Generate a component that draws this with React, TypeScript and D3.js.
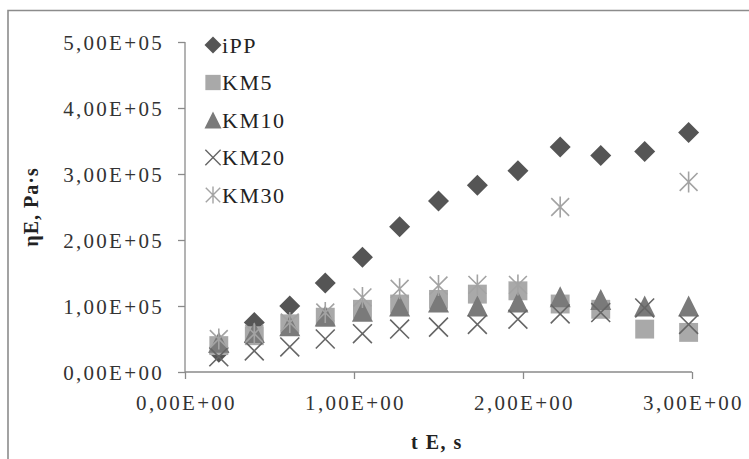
import React, { useEffect, useRef } from 'react';
import * as d3 from 'd3';

// time, s
const times = [0.2, 0.41, 0.62, 0.83, 1.05, 1.27, 1.5, 1.73, 1.97, 2.22, 2.46, 2.72, 2.98];

// elongational viscosity, Pa·s
const iPP = [30000, 75000, 100000, 135000, 174000, 220000, 259000, 283000, 305000, 341000, 328000, 334000, 363000];
const KM5 = [40000, 55000, 73000, 83000, 95000, 103000, 110000, 118000, 123000, 103000, 95000, 65000, 60000];
const KM10 = [45000, 60000, 70000, 85000, 92000, 100000, 106000, 100000, 106000, 114000, 110000, 100000, 100000];
const KM20 = [23000, 32000, 38000, 50000, 58000, 65000, 68000, 72000, 80000, 88000, 90000, 97000, 72000];
const KM30 = [50000, 58000, 75000, 90000, 113000, 126000, 131000, 132000, 132000, 250000, null, null, 288000];

const seriesNames = ['iPP', 'KM5', 'KM10', 'KM20', 'KM30'];
const seriesValues = [iPP, KM5, KM10, KM20, KM30];

const xTicks = [0, 1, 2, 3];
const yTicks = [0, 100000, 200000, 300000, 400000, 500000];

const fmt = (v: number) => {
  const s = v.toExponential(2).replace('.', ',');
  const [m, e] = s.split('e');
  const sign = e[0] === '-' ? '-' : '+';
  const digits = e.replace(/[+-]/, '').padStart(2, '0');
  return m + 'E' + sign + digits;
};

const markers: { [k: string]: { kind: string; fill: string; stroke: string } } = {
  iPP: { kind: 'diamond', fill: '#555555', stroke: 'none' },
  KM5: { kind: 'square', fill: '#a9a9a9', stroke: 'none' },
  KM10: { kind: 'triangle', fill: '#7a7a7a', stroke: 'none' },
  KM20: { kind: 'x', fill: 'none', stroke: '#666666' },
  KM30: { kind: 'star', fill: 'none', stroke: '#a3a3a3' },
};

function markerPath(kind: string, r: number) {
  const p = d3.path();
  if (kind === 'diamond') {
    p.moveTo(0, -r); p.lineTo(r, 0); p.lineTo(0, r); p.lineTo(-r, 0); p.closePath();
  } else if (kind === 'square') {
    const h = r * 0.9;
    p.rect(-h, -h, 2 * h, 2 * h);
  } else if (kind === 'triangle') {
    p.moveTo(0, -r); p.lineTo(r, r); p.lineTo(-r, r); p.closePath();
  } else if (kind === 'x') {
    const h = r * 0.9;
    p.moveTo(-h, -h); p.lineTo(h, h); p.moveTo(h, -h); p.lineTo(-h, h);
  } else {
    const h = r * 0.85;
    p.moveTo(-h, -h); p.lineTo(h, h); p.moveTo(h, -h); p.lineTo(-h, h);
    p.moveTo(0, -r); p.lineTo(0, r);
  }
  return p.toString();
}

export default function App() {
  const ref = useRef<SVGSVGElement>(null);

  useEffect(() => {
    const svg = d3.select(ref.current);
    svg.selectAll('*').remove();

    const width = 749, height = 459;
    const left = 185, right = 692, top = 42, bottom = 372;

    const x = d3.scaleLinear().domain([0, 3]).range([left, right]);
    const y = d3.scaleLinear().domain([0, 500000]).range([bottom, top]);

    svg.append('rect').attr('width', width).attr('height', height).attr('fill', '#fff');

    // outer frame (left and top edges visible)
    svg.append('path')
      .attr('d', `M8,${height}V10.5H${width}`)
      .attr('fill', 'none')
      .attr('stroke', '#8c8c8c')
      .attr('stroke-width', 1.6);

    const font = '"Liberation Serif", "Times New Roman", serif';
    const axisColor = '#8a8a8a';

    // y axis
    const yAxis = svg.append('g')
      .attr('transform', `translate(${left},0)`)
      .call(d3.axisLeft(y).tickValues(yTicks).tickSize(7).tickPadding(14).tickFormat((d) => fmt(+d)));
    // x axis
    const xAxis = svg.append('g')
      .attr('transform', `translate(0,${bottom})`)
      .call(d3.axisBottom(x).tickValues(xTicks).tickSize(7).tickPadding(12).tickFormat((d) => fmt(+d)));

    [yAxis, xAxis].forEach((ax) => {
      ax.select('.domain').attr('stroke', axisColor).attr('stroke-width', 1.3);
      ax.selectAll('.tick line').attr('stroke', axisColor).attr('stroke-width', 1.3);
      ax.selectAll('.tick text')
        .attr('fill', '#333')
        .style('font-family', font)
        .style('font-size', '21px')
        .style('letter-spacing', '2.3px');
    });
    yAxis.select('.domain').attr('d', `M0,${top}V${bottom}`);
    yAxis.selectAll('.tick text').attr('dy', '0.36em');
    xAxis.select('.domain').attr('d', `M${left},0H${right}`);
    xAxis.selectAll('.tick text').attr('dy', '0.9em').attr('dx', '1px');

    // axis titles
    svg.append('text')
      .attr('x', 437).attr('y', 449)
      .attr('text-anchor', 'middle')
      .style('font-family', font).style('font-weight', 'bold').style('font-size', '20px')
      .style('letter-spacing', '1.5px')
      .attr('fill', '#222')
      .text('t E, s');

    svg.append('text')
      .attr('transform', `translate(38,${(top + bottom) / 2}) rotate(-90)`)
      .attr('text-anchor', 'middle')
      .style('font-family', font).style('font-weight', 'bold').style('font-size', '20px')
      .style('letter-spacing', '1px')
      .attr('fill', '#222')
      .text('ηE, Pa·s');

    // points
    seriesNames.forEach((name, si) => {
      const m = markers[name];
      const pts = times
        .map((t, i) => ({ t, v: seriesValues[si][i] }))
        .filter((d) => d.v !== null) as { t: number; v: number }[];
      svg.append('g')
        .selectAll('path')
        .data(pts)
        .enter()
        .append('path')
        .attr('transform', (d) => `translate(${x(d.t)},${y(d.v)})`)
        .attr('d', markerPath(m.kind, 10.5))
        .attr('fill', m.fill)
        .attr('stroke', m.stroke)
        .attr('stroke-width', 1.6);
    });

    // legend
    const legend = svg.append('g').attr('transform', 'translate(213,45)');
    seriesNames.forEach((name, i) => {
      const m = markers[name];
      const g = legend.append('g').attr('transform', `translate(0,${i * 37.5})`);
      g.append('path')
        .attr('d', markerPath(m.kind, 8.5))
        .attr('fill', m.fill)
        .attr('stroke', m.stroke)
        .attr('stroke-width', 1.4);
      g.append('text')
        .attr('x', 9)
        .attr('dy', '0.36em')
        .style('font-family', font)
        .style('font-size', '22px')
        .style('letter-spacing', '1.5px')
        .attr('fill', '#222')
        .text(name);
    });
  }, []);

  return (
    <svg
      ref={ref}
      width={749}
      height={459}
      style={{ position: 'absolute', left: 0, top: 0 }}
    />
  );
}
